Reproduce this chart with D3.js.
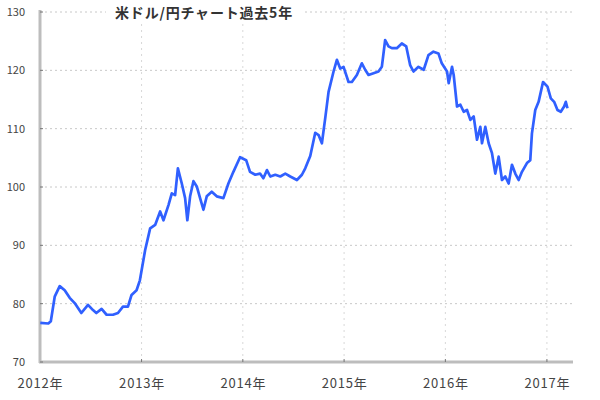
<!DOCTYPE html>
<html><head><meta charset="utf-8">
<script src="https://cdn.jsdelivr.net/npm/d3@7"></script>
<style>body{margin:0;background:#fff}svg{display:block}</style>
</head><body>
<svg id="c" width="600" height="400"></svg>
<script>
const title = "米ドル/円チャート過去5年";
const yTicks = [70, 80, 90, 100, 110, 120, 130];
const xTickYears = [2012, 2013, 2014, 2015, 2016, 2017];
const xTickLabels = ["2012年", "2013年", "2014年", "2015年", "2016年", "2017年"];
const dates = ["2012-01-02","2012-01-31","2012-02-09","2012-02-23","2012-03-12","2012-03-30","2012-04-17","2012-05-05","2012-05-29","2012-06-22","2012-07-10","2012-07-22","2012-08-10","2012-08-28","2012-09-20","2012-10-08","2012-10-26","2012-11-13","2012-11-26","2012-12-14","2012-12-26",
"2013-01-14","2013-02-01","2013-02-19","2013-03-09","2013-03-21","2013-04-08","2013-04-20","2013-05-02","2013-05-12","2013-05-26","2013-06-07","2013-06-15","2013-06-25","2013-07-07","2013-07-19","2013-07-31","2013-08-12","2013-08-24","2013-09-11","2013-09-29","2013-10-23","2013-11-10","2013-11-28","2013-12-22",
"2014-01-13","2014-01-27","2014-02-15","2014-03-04","2014-03-16","2014-03-29","2014-04-10","2014-04-28","2014-05-16","2014-06-03","2014-06-21","2014-07-15","2014-08-02","2014-08-14","2014-09-01","2014-09-19","2014-10-01","2014-10-13","2014-10-25","2014-11-06","2014-11-24","2014-12-06","2014-12-18","2014-12-30",
"2015-01-17","2015-01-29","2015-02-16","2015-03-06","2015-03-18","2015-03-30","2015-04-17","2015-05-05","2015-05-17","2015-05-29","2015-06-10","2015-06-22","2015-07-10","2015-07-28","2015-08-13","2015-08-27","2015-09-08","2015-09-26","2015-10-15","2015-11-01","2015-11-19","2015-12-07","2015-12-19",
"2016-01-07","2016-01-13","2016-01-25","2016-01-31","2016-02-12","2016-02-24","2016-03-07","2016-03-19","2016-03-31","2016-04-12","2016-04-24","2016-05-06","2016-05-12","2016-05-24","2016-06-05","2016-06-17","2016-06-29","2016-07-11","2016-07-23","2016-08-04","2016-08-16","2016-08-28","2016-09-09","2016-09-21","2016-10-03","2016-10-21","2016-11-02","2016-11-08","2016-11-20","2016-12-02","2016-12-18",
"2017-01-03","2017-01-15","2017-01-27","2017-02-08","2017-02-20","2017-03-04","2017-03-10","2017-03-16"];
const values = [76.7,76.6,77.0,81.2,83.0,82.3,81.0,80.1,78.4,79.8,78.9,78.4,79.1,78.1,78.1,78.4,79.5,79.5,81.5,82.3,84.0,
89.2,92.9,93.5,95.8,94.3,96.9,98.9,98.6,103.2,100.6,98.1,94.3,98.4,101.0,100.1,98.1,96.1,98.4,99.2,98.4,98.1,100.6,102.6,105.1,
104.6,102.6,102.1,102.3,101.5,102.9,101.8,102.1,101.8,102.3,101.8,101.2,102.1,103.2,105.3,109.3,108.9,107.5,111.8,116.3,119.8,121.8,120.3,120.6,
118.0,118.0,119.2,121.2,120.1,119.2,119.5,119.8,120.6,125.2,124.1,123.8,123.8,124.6,124.1,120.9,119.8,120.6,120.1,122.6,123.2,122.9,121.2,
119.8,117.8,120.6,119.2,113.8,114.1,112.9,113.2,111.5,112.1,108.1,110.3,107.5,110.3,107.5,105.8,102.3,105.2,101.2,101.8,100.6,103.8,102.3,101.2,102.6,104.1,104.6,109.2,113.2,114.6,118.0,
117.2,115.2,114.6,113.2,112.9,113.8,114.6,113.5];

const parse = d3.timeParse("%Y-%m-%d");
const data = dates.map((d, i) => ({date: parse(d), value: values[i]}));

const svg = d3.select("#c");
const mLeft = 40, mRight = 573, mTop = 12, mBottom = 362;
const x = d3.scaleTime().domain([new Date(2012,0,1), new Date(2017,3,5)]).range([mLeft, mRight]);
const y = d3.scaleLinear().domain([70,130]).range([mBottom, mTop]);
const yearDates = xTickYears.map(yr => new Date(yr,0,1));

// grid
svg.append("g").selectAll("line").data(yTicks.slice(1)).join("line")
  .attr("x1", mLeft).attr("x2", mRight).attr("y1", d => y(d)).attr("y2", d => y(d))
  .attr("stroke", "#c8c8c8").attr("stroke-width", 1).attr("stroke-dasharray", "2,3");
svg.append("g").selectAll("line").data(yearDates.slice(1)).join("line")
  .attr("x1", d => x(d)).attr("x2", d => x(d)).attr("y1", mTop).attr("y2", mBottom)
  .attr("stroke", "#d8d8d8").attr("stroke-width", 1).attr("stroke-dasharray", "2,4");

// axes
const yAxis = d3.axisLeft(y).tickValues(yTicks).tickSize(0).tickPadding(15).tickFormat(d3.format("d"));
const gy = svg.append("g").attr("transform", `translate(${mLeft},0)`).call(yAxis);
gy.select(".domain").remove();
gy.selectAll("text").attr("font-family", "Noto Sans CJK JP, sans-serif").attr("font-size", 11).attr("fill", "#444");

const xAxis = d3.axisBottom(x).tickValues(yearDates).tickSize(0).tickPadding(17)
  .tickFormat((d, i) => xTickLabels[i]);
const gx = svg.append("g").attr("transform", `translate(0,${mBottom})`).call(xAxis);
gx.select(".domain").remove();
gx.selectAll("text").attr("font-family", "Noto Sans CJK JP, sans-serif").attr("font-size", 13)
  .attr("letter-spacing", 0.8).attr("fill", "#444");

// axis lines
svg.append("line").attr("x1", mLeft).attr("x2", mLeft).attr("y1", mTop - 2).attr("y2", mBottom + 1)
  .attr("stroke", "#bdbdbd").attr("stroke-width", 3);
svg.append("line").attr("x1", mLeft - 1).attr("x2", mRight).attr("y1", mBottom).attr("y2", mBottom)
  .attr("stroke", "#bdbdbd").attr("stroke-width", 3);
// small tick marks
svg.append("g").selectAll("line").data(yTicks).join("line")
  .attr("x1", mLeft).attr("x2", mLeft + 3).attr("y1", d => y(d)).attr("y2", d => y(d))
  .attr("stroke", "#777").attr("stroke-width", 1);
svg.append("g").selectAll("line").data(yearDates.slice(1)).join("line")
  .attr("x1", d => x(d)).attr("x2", d => x(d)).attr("y1", mBottom - 3).attr("y2", mBottom)
  .attr("stroke", "#777").attr("stroke-width", 1);

// title
svg.append("rect").attr("x", 106).attr("y", 3).attr("width", 196).attr("height", 19).attr("fill", "#fff");
svg.append("text").attr("x", 204).attr("y", 18).attr("text-anchor", "middle")
  .attr("font-family", "Noto Sans CJK JP, sans-serif").attr("font-size", 14).attr("font-weight", "bold")
  .attr("letter-spacing", 0.8).attr("fill", "#333").text(title);

// line
svg.append("path").datum(data)
  .attr("fill", "none").attr("stroke", "#3060ff").attr("stroke-width", 2.7).attr("stroke-linejoin", "round")
  .attr("d", d3.line().x(d => x(d.date)).y(d => y(d.value)));
</script>
</body></html>
